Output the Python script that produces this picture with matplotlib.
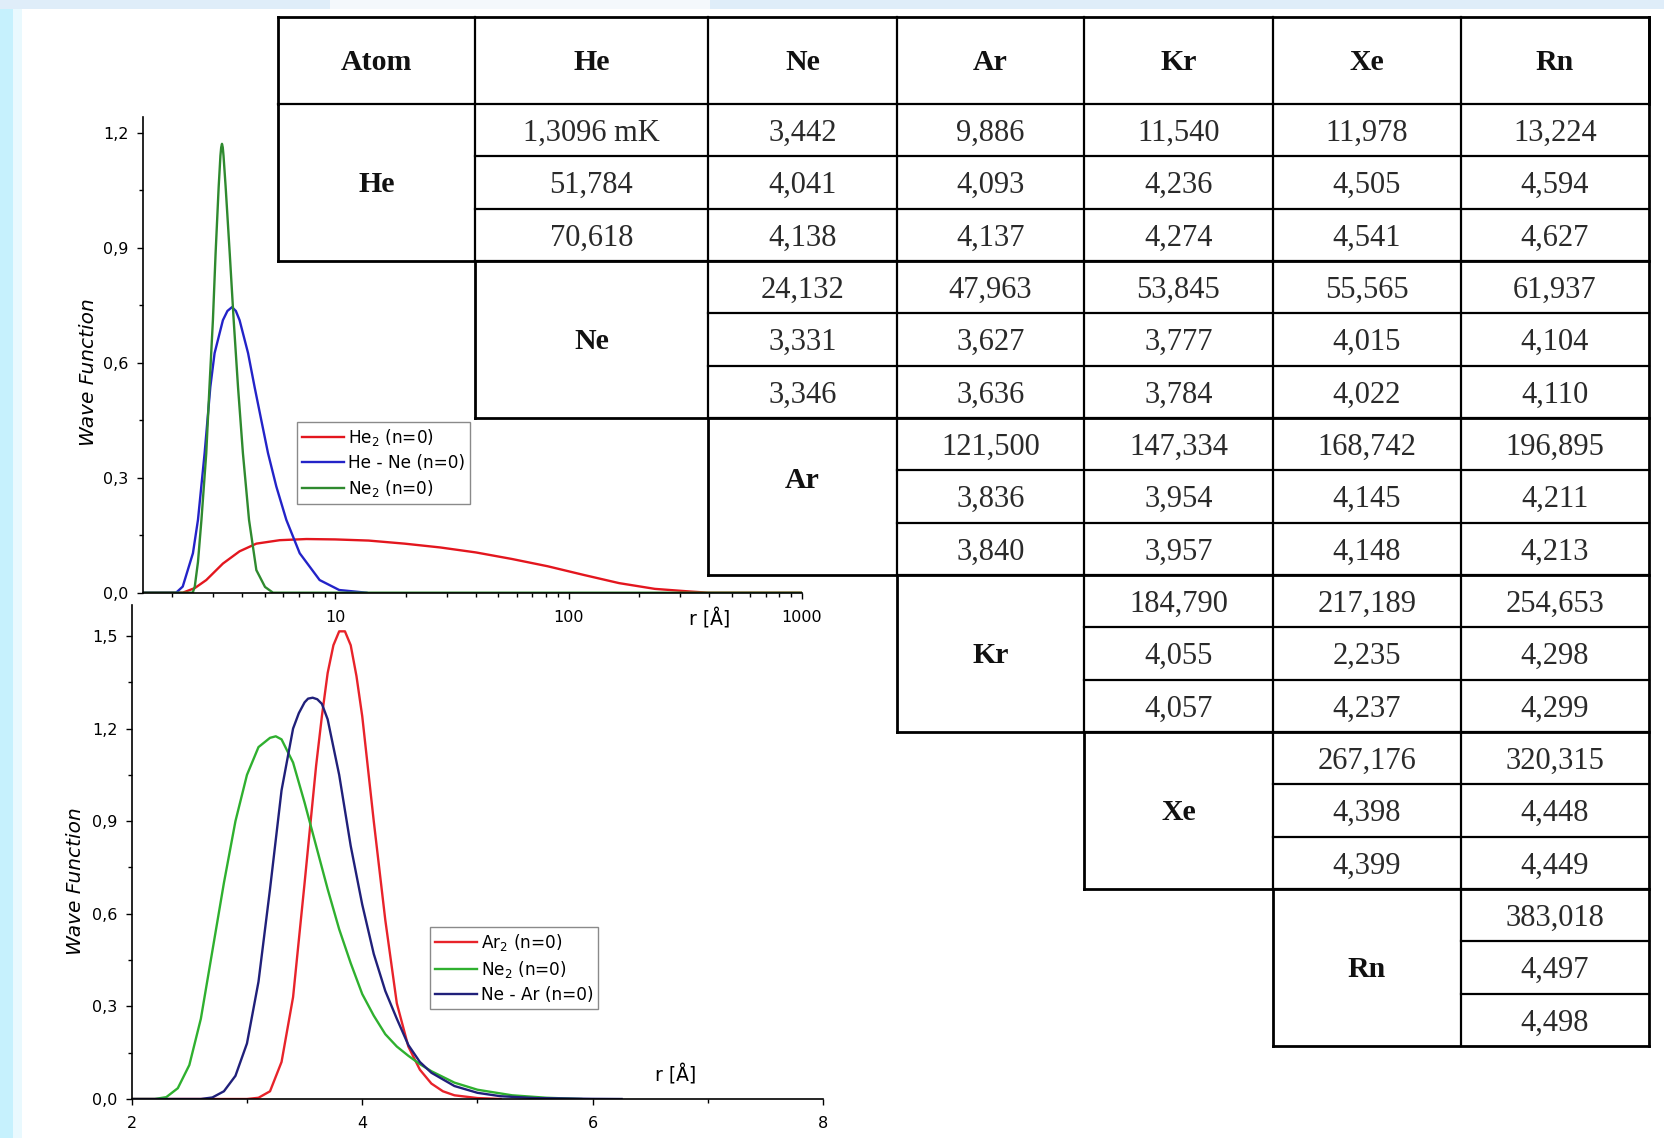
import matplotlib.pyplot as plt
from matplotlib.ticker import FixedLocator, FuncFormatter, NullFormatter
from matplotlib.patches import Rectangle

# -----------------------------
# CURVE DATA
# -----------------------------
# top panel, log r axis
he2_r = [1.5, 2.22, 2.5, 2.8, 3.3, 3.89, 4.59, 5.78, 7.52, 10.0, 13.9, 19.8, 28.2,
         40.1, 57.1, 81.3, 115.6, 164.5, 234, 333, 397, 1000]
he2_psi = [0, 0, 0.012, 0.033, 0.076, 0.108, 0.128, 0.137, 0.14, 0.139, 0.136, 0.128,
           0.118, 0.105, 0.088, 0.069, 0.0466, 0.025, 0.010, 0.003, 0, 0]

hene_r = [1.5, 2.08, 2.22, 2.455, 2.58, 2.755, 2.915, 3.04, 3.30, 3.45, 3.61, 3.75,
          3.89, 4.23, 4.51, 4.82, 5.15, 5.59, 6.17, 7.04, 8.57, 10.4, 13.6]
hene_psi = [0, 0, 0.016, 0.103, 0.19, 0.364, 0.537, 0.625, 0.711, 0.735, 0.745, 0.735,
            0.711, 0.625, 0.537, 0.45, 0.364, 0.277, 0.19, 0.103, 0.033, 0.007, 0]

ne2_top_r = [1.5, 2.45, 2.50, 2.58, 2.67, 2.80, 2.89, 2.99, 3.07, 3.165, 3.22, 3.245,
             3.27, 3.295, 3.32, 3.39, 3.53, 3.67, 3.83, 4.02, 4.27, 4.59, 5.0, 5.41, 1000]
ne2_top_psi = [0, 0, 0.016, 0.08, 0.19, 0.364, 0.537, 0.711, 0.885, 1.059, 1.14, 1.162,
               1.171, 1.162, 1.14, 1.059, 0.885, 0.711, 0.537, 0.364, 0.19, 0.059, 0.015,
               0, 0]

# bottom panel, linear r axis
ar2_r = [2.0, 3.0, 3.1, 3.2, 3.3, 3.4, 3.5, 3.6, 3.65, 3.7, 3.75, 3.8, 3.85, 3.9, 3.95,
         4.0, 4.05, 4.1, 4.2, 4.3, 4.4, 4.5, 4.6, 4.7, 4.8, 5.0, 5.2]
ar2_psi = [0, 0, 0.004, 0.025, 0.12, 0.33, 0.70, 1.08, 1.24, 1.38, 1.47, 1.515, 1.515,
           1.47, 1.37, 1.24, 1.07, 0.90, 0.58, 0.31, 0.17, 0.095, 0.05, 0.025, 0.012,
           0.003, 0]

ne2_r = [2.0, 2.2, 2.3, 2.4, 2.5, 2.6, 2.7, 2.8, 2.9, 3.0, 3.1, 3.2, 3.25, 3.3, 3.4, 3.5,
         3.6, 3.7, 3.8, 3.9, 4.0, 4.1, 4.2, 4.3, 4.4, 4.5, 4.6, 4.8, 5.0, 5.3, 5.6, 5.9]
ne2_psi = [0, 0, 0.006, 0.035, 0.11, 0.26, 0.48, 0.70, 0.90, 1.05, 1.14, 1.17, 1.175,
           1.165, 1.09, 0.96, 0.82, 0.68, 0.55, 0.44, 0.34, 0.27, 0.21, 0.17, 0.14,
           0.113, 0.09, 0.053, 0.03, 0.012, 0.004, 0]

near_r = [2.0, 2.6, 2.7, 2.8, 2.9, 3.0, 3.1, 3.2, 3.3, 3.4, 3.45, 3.5, 3.53, 3.57, 3.61,
          3.65, 3.7, 3.8, 3.9, 4.0, 4.1, 4.2, 4.3, 4.4, 4.5, 4.6, 4.8, 5.0, 5.2, 5.5,
          6.0, 6.25]
near_psi = [0, 0, 0.005, 0.025, 0.075, 0.18, 0.38, 0.68, 1.00, 1.20, 1.25, 1.285, 1.297,
            1.30, 1.295, 1.28, 1.23, 1.05, 0.82, 0.63, 0.47, 0.35, 0.26, 0.175, 0.12,
            0.085, 0.042, 0.02, 0.009, 0.003, 0.0005, 0]

# -----------------------------
# TABLE DATA
# -----------------------------
atoms = ["He", "Ne", "Ar", "Kr", "Xe", "Rn"]
header = ["Atom"] + atoms

he_vals = [["1,3096 mK", "3,442", "9,886", "11,540", "11,978", "13,224"],
           ["51,784", "4,041", "4,093", "4,236", "4,505", "4,594"],
           ["70,618", "4,138", "4,137", "4,274", "4,541", "4,627"]]
ne_vals = [["24,132", "47,963", "53,845", "55,565", "61,937"],
           ["3,331", "3,627", "3,777", "4,015", "4,104"],
           ["3,346", "3,636", "3,784", "4,022", "4,110"]]
ar_vals = [["121,500", "147,334", "168,742", "196,895"],
           ["3,836", "3,954", "4,145", "4,211"],
           ["3,840", "3,957", "4,148", "4,213"]]
kr_vals = [["184,790", "217,189", "254,653"],
           ["4,055", "2,235", "4,298"],
           ["4,057", "4,237", "4,299"]]
xe_vals = [["267,176", "320,315"],
           ["4,398", "4,448"],
           ["4,399", "4,449"]]
rn_vals = [["383,018"], ["4,497"], ["4,498"]]
groups = [he_vals, ne_vals, ar_vals, kr_vals, xe_vals, rn_vals]

# -----------------------------
# FIGURE
# -----------------------------
W, H = 1665, 1138
fig = plt.figure(figsize=(W / 100, H / 100), dpi=100)
fig.patch.set_facecolor("white")

# background strips
bg = fig.add_axes([0, 0, 1, 1], zorder=0)
bg.set_xlim(0, W)
bg.set_ylim(H, 0)
bg.axis("off")
bg.add_patch(Rectangle((0, 0), 13, H, color="#c6f1fd", lw=0))
bg.add_patch(Rectangle((13, 0), 9, H, color="#e9f9fe", lw=0))
bg.add_patch(Rectangle((0, 0), W, 9, color="#dfedf9", lw=0))
bg.add_patch(Rectangle((330, 0), 380, 9, color="#f4f8fc", lw=0))


def comma_fmt(v, pos):
    return f"{v:.1f}".replace(".", ",")


def style_axes(ax):
    ax.set_facecolor("none")
    for s in ["top", "right"]:
        ax.spines[s].set_visible(False)
    for s in ["left", "bottom"]:
        ax.spines[s].set_linewidth(1.2)
    ax.tick_params(which="major", direction="out", length=4.3, width=1.0,
                   labelsize=11.5)
    ax.tick_params(which="minor", direction="out", length=2.8, width=1.0)
    ax.tick_params(axis="x", which="major", pad=8)
    ax.tick_params(axis="y", which="major", pad=6)


LW = 1.7
LEG = dict(loc="upper left", borderaxespad=0, fontsize=12.2, frameon=True,
           fancybox=False, framealpha=1, edgecolor="#8a8a8a", handlelength=2.5,
           handletextpad=0.2, labelspacing=0.35, borderpad=0.3)

# -----------------------------
# BOTTOM PANEL
# -----------------------------
ax2 = fig.add_axes([131.7 / W, 39 / H, 691.6 / W, 493.9 / H], zorder=1)
style_axes(ax2)
ax2.plot(ar2_r, ar2_psi, color="#e8232a", lw=LW, label=r"Ar$_2$ (n=0)")
ax2.plot(ne2_r, ne2_psi, color="#2fb02f", lw=LW, label=r"Ne$_2$ (n=0)")
ax2.plot(near_r, near_psi, color="#20207a", lw=LW, label="Ne - Ar (n=0)")
ax2.set_xlim(2, 8)
ax2.set_ylim(0, 1.6)
ax2.xaxis.set_major_locator(FixedLocator([2, 4, 6, 8]))
ax2.xaxis.set_minor_locator(FixedLocator([3, 5, 7]))
ax2.yaxis.set_major_locator(FixedLocator([0, 0.3, 0.6, 0.9, 1.2, 1.5]))
ax2.yaxis.set_minor_locator(FixedLocator([0.15, 0.45, 0.75, 1.05, 1.35]))
ax2.yaxis.set_major_formatter(FuncFormatter(comma_fmt))
ax2.text(-0.081, 0.4406, "Wave Function", transform=ax2.transAxes, rotation=90,
         ha="center", va="center", fontsize=14.5, fontstyle="italic")
ax2.text(0.786, 0.049, "r [Å]", transform=ax2.transAxes, ha="center", va="center",
         fontsize=13.5)
leg2 = ax2.legend(bbox_to_anchor=(0.4313, 0.3483), **LEG)
leg2.get_frame().set_linewidth(1.0)

# -----------------------------
# TOP PANEL
# -----------------------------
ax1 = fig.add_axes([143 / W, (H - 592.7) / H, 659 / W, 475.3 / H], zorder=1.5)
style_axes(ax1)
ax1.set_xscale("log")
ax1.plot(he2_r, he2_psi, color="#e3161e", lw=LW, label=r"He$_2$ (n=0)")
ax1.plot(hene_r, hene_psi, color="#2323c8", lw=LW, label="He - Ne (n=0)")
ax1.plot(ne2_top_r, ne2_top_psi, color="#2f8a2f", lw=LW, label=r"Ne$_2$ (n=0)")
ax1.set_xlim(1.5, 1000)
ax1.set_ylim(0, 1.24)
ax1.xaxis.set_major_locator(FixedLocator([10, 100, 1000]))
ax1.xaxis.set_major_formatter(FuncFormatter(lambda v, p: f"{v:.0f}"))
minor_x = [m * d for d in (1, 10, 100) for m in range(2, 10)]
ax1.xaxis.set_minor_locator(FixedLocator(minor_x))
ax1.xaxis.set_minor_formatter(NullFormatter())
ax1.yaxis.set_major_locator(FixedLocator([0, 0.3, 0.6, 0.9, 1.2]))
ax1.yaxis.set_minor_locator(FixedLocator([0.15, 0.45, 0.75, 1.05]))
ax1.yaxis.set_major_formatter(FuncFormatter(comma_fmt))
ax1.text(-0.083, 0.464, "Wave Function", transform=ax1.transAxes, rotation=90,
         ha="center", va="center", fontsize=14.5, fontstyle="italic")
ax1.text(0.8595, -0.055, "r [Å]", transform=ax1.transAxes, ha="center", va="center",
         fontsize=13.5)
leg1 = ax1.legend(bbox_to_anchor=(0.2337, 0.36), **LEG)
leg1.get_frame().set_linewidth(1.0)

# -----------------------------
# TABLE (pixel coordinates)
# -----------------------------
tab = fig.add_axes([0, 0, 1, 1], zorder=2)
tab.set_xlim(0, W)
tab.set_ylim(H, 0)
tab.axis("off")

col_edges = [278, 475, 708, 897, 1084, 1273, 1461, 1649]
head_top, head_bot, table_bot = 17, 104, 1046
row_h = (table_bot - head_bot) / 18
row_edges = [head_bot + i * row_h for i in range(19)]
# the "Ar" label sits a little above its block's centre in the original
label_shift = {"Ar": -18}

LW_IN = 1.6
serif = "Liberation Serif"


def hline(y, x0, x1, lw=LW_IN):
    tab.plot([x0, x1], [y, y], color="black", lw=lw, solid_capstyle="projecting")


def vline(x, y0, y1, lw=LW_IN):
    tab.plot([x, x], [y0, y1], color="black", lw=lw, solid_capstyle="projecting")


def mid(a, b):
    return (a + b) / 2


# header row
hline(head_top, col_edges[0], col_edges[7], lw=2.0)
for c in range(8):
    vline(col_edges[c], head_top, head_bot, lw=2.0 if c in (0, 7) else LW_IN)
for c, name in enumerate(header):
    tab.text(mid(col_edges[c], col_edges[c + 1]), mid(head_top, head_bot) + 2, name,
             ha="center", va="center", fontsize=21.5, fontweight="bold",
             family=serif, color="#111111")

# staircase groups
for g, vals in enumerate(groups):
    r0, r3 = row_edges[3 * g], row_edges[3 * g + 3]
    hline(r0, col_edges[g], col_edges[7])
    hline(r3, col_edges[g], col_edges[7], lw=2.0)
    vline(col_edges[g], r0, r3, lw=2.0)
    for c in range(g + 1, 7):
        vline(col_edges[c], r0, r3)
    for k in (1, 2):
        hline(row_edges[3 * g + k], col_edges[g + 1], col_edges[7])
    tab.text(mid(col_edges[g], col_edges[g + 1]),
             mid(r0, r3) + 2 + label_shift.get(atoms[g], 0), atoms[g],
             ha="center", va="center", fontsize=21.5, fontweight="bold",
             family=serif, color="#111111")
    for k, row in enumerate(vals):
        yc = mid(row_edges[3 * g + k], row_edges[3 * g + k + 1]) + 3
        for j, txt in enumerate(row):
            c = g + 1 + j
            tab.text(mid(col_edges[c], col_edges[c + 1]), yc, txt, ha="center",
                     va="center", fontsize=22, family=serif, color="#2a2a2a")

vline(col_edges[7], head_top, table_bot, lw=2.0)

fig.savefig("out.png", dpi=100)
plt.close(fig)
print("saved out.png")
